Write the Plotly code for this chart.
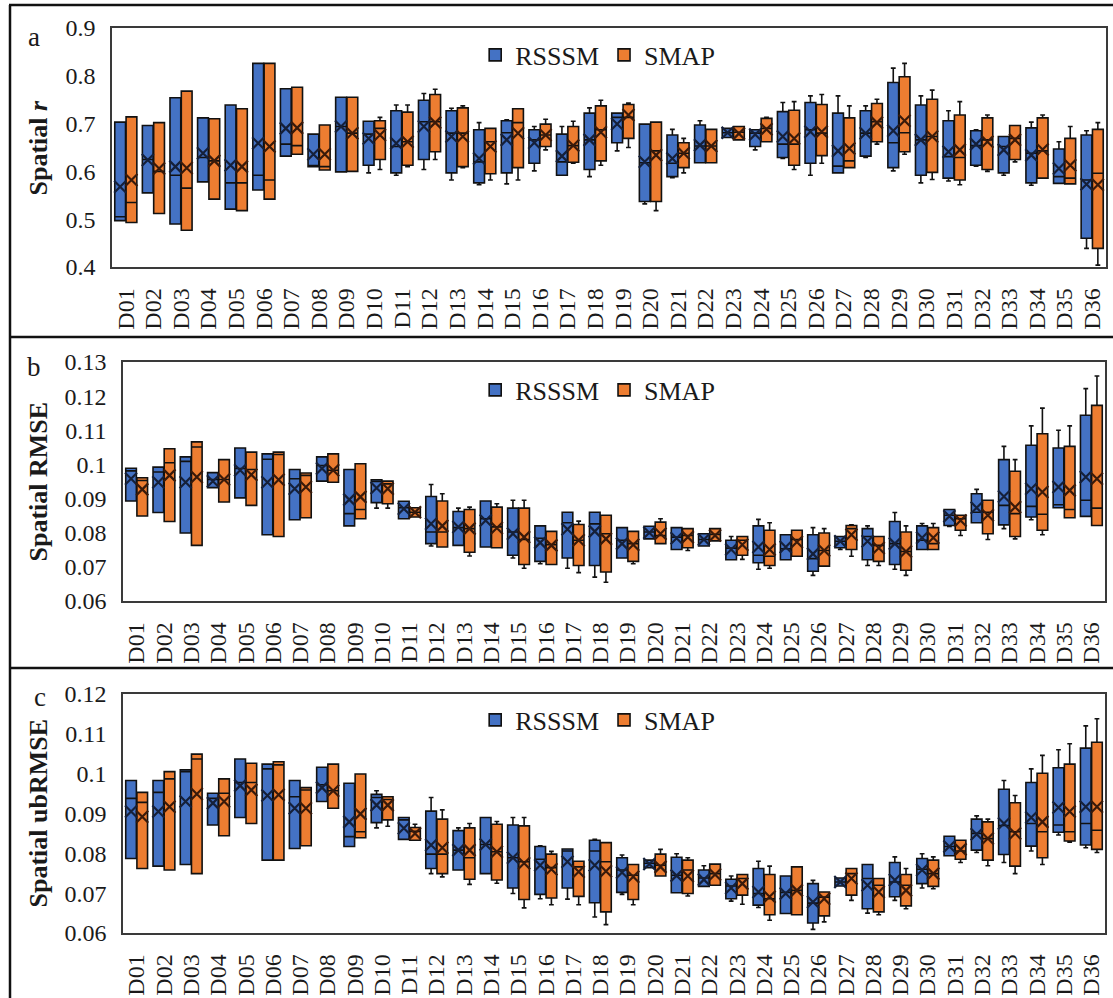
import plotly.graph_objects as go

categories = ["D01","D02","D03","D04","D05","D06","D07","D08","D09","D10","D11","D12",
              "D13","D14","D15","D16","D17","D18","D19","D20","D21","D22","D23","D24",
              "D25","D26","D27","D28","D29","D30","D31","D32","D33","D34","D35","D36"]
series_names = ["RSSSM", "SMAP"]

# ---------------- Panel a : Spatial r ----------------
a_rs_q3 = [.703,.696,.754,.712,.739,.826,.773,.678,.755,.705,.727,.749,.727,.687,.706,.687,.678,.722,
           .722,.699,.676,.697,.690,.687,.725,.744,.722,.727,.786,.739,.706,.685,.673,.691,.647,.676]
a_rs_q1 = [.497,.555,.490,.578,.521,.561,.632,.610,.599,.613,.597,.625,.597,.576,.597,.617,.592,.604,
           .660,.537,.589,.618,.671,.652,.629,.617,.597,.632,.608,.592,.586,.613,.597,.576,.575,.460]
a_rs_med = [.505,.625,.592,.629,.576,.592,.657,.612,.694,.678,.652,.704,.680,.620,.681,.666,.620,.666,
            .713,.618,.617,.653,.681,.680,.657,.687,.611,.680,.660,.666,.631,.654,.652,.638,.589,.582]
a_rs_mean = [.568,.624,.610,.638,.613,.659,.690,.636,.694,.669,.659,.694,.673,.627,.666,.660,.632,.666,
             .699,.620,.627,.655,.681,.677,.673,.683,.643,.680,.685,.666,.641,.657,.645,.634,.606,.573]
a_rs_lo = [.497,.555,.490,.578,.521,.561,.632,.610,.599,.597,.592,.604,.582,.572,.574,.601,.592,.589,
           .643,.532,.587,.618,.671,.645,.627,.592,.597,.629,.601,.576,.580,.611,.592,.571,.575,.439]
a_rs_hi = [.703,.696,.754,.712,.739,.826,.773,.678,.755,.705,.739,.763,.732,.702,.708,.694,.694,.733,
           .722,.699,.688,.706,.690,.687,.744,.758,.758,.737,.816,.758,.727,.687,.673,.703,.662,.685]

a_sm_q3 = [.714,.702,.768,.710,.731,.826,.776,.697,.755,.706,.724,.761,.733,.690,.731,.699,.694,.737,
           .740,.703,.660,.688,.694,.711,.728,.740,.712,.742,.798,.751,.718,.712,.696,.712,.669,.688]
a_sm_q1 = [.493,.512,.477,.542,.518,.542,.636,.603,.600,.625,.613,.641,.610,.595,.608,.652,.619,.622,
           .669,.537,.608,.618,.666,.662,.613,.633,.608,.662,.641,.598,.582,.604,.625,.586,.574,.439]
a_sm_med = [.535,.600,.565,.622,.576,.582,.654,.610,.680,.690,.662,.704,.680,.662,.702,.676,.654,.687,
            .713,.643,.638,.653,.682,.690,.657,.680,.622,.704,.681,.673,.629,.666,.669,.643,.586,.596]
a_sm_mean = [.582,.606,.607,.622,.610,.652,.691,.636,.680,.676,.662,.702,.673,.652,.680,.676,.654,.682,
             .718,.634,.638,.653,.679,.688,.669,.683,.648,.702,.706,.673,.645,.662,.666,.646,.613,.572]
a_sm_lo = [.493,.512,.477,.542,.518,.542,.636,.603,.600,.604,.610,.625,.608,.582,.582,.645,.617,.613,
           .650,.518,.597,.618,.666,.662,.604,.617,.608,.657,.636,.583,.572,.600,.620,.586,.574,.404]
a_sm_hi = [.714,.702,.768,.710,.731,.826,.776,.697,.755,.713,.739,.772,.737,.690,.731,.709,.705,.749,
           .743,.703,.669,.688,.694,.713,.746,.761,.737,.751,.826,.770,.746,.718,.696,.718,.694,.702]

# ---------------- Panel b : Spatial RMSE ----------------
b_rs_q3 = [.0989,.0992,.1022,.0976,.1048,.1031,.0985,.1022,.0985,.0955,.0892,.0906,.0862,.0893,.0872,.0820,.0860,.0860,
           .0815,.0819,.0815,.0797,.0778,.0820,.0794,.0794,.0789,.0812,.0833,.0820,.0868,.0914,.1014,.1056,.1048,.1144]
b_rs_q1 = [.0893,.0859,.0799,.0932,.0902,.0794,.0838,.0951,.0820,.0888,.0841,.0768,.0763,.0758,.0734,.0716,.0726,.0704,
           .0726,.0782,.0751,.0761,.0721,.0712,.0721,.0687,.0756,.0721,.0707,.0751,.0821,.0829,.0823,.0846,.0873,.0848]
b_rs_med = [.0981,.0978,.1009,.0956,.0988,.1015,.0958,.0997,.0856,.0950,.0873,.0802,.0815,.0841,.0802,.0784,.0829,.0826,
            .0778,.0802,.0787,.0780,.0755,.0734,.0753,.0724,.0775,.0789,.0768,.0778,.0851,.0860,.0880,.0877,.0882,.0895]
b_rs_mean = [.0958,.0948,.0948,.0951,.0983,.0948,.0929,.0988,.0897,.0931,.0870,.0826,.0817,.0836,.0797,.0771,.0810,.0804,
             .0768,.0800,.0784,.0780,.0751,.0758,.0758,.0738,.0775,.0775,.0768,.0785,.0848,.0873,.0906,.0929,.0934,.0963]
b_rs_lo = [.0893,.0859,.0799,.0932,.0902,.0794,.0838,.0951,.0820,.0872,.0841,.0761,.0763,.0758,.0726,.0709,.0696,.0670,
           .0726,.0782,.0751,.0761,.0721,.0693,.0721,.0675,.0751,.0704,.0693,.0751,.0818,.0829,.0812,.0838,.0873,.0848]
b_rs_hi = [.0989,.0992,.1022,.0976,.1048,.1031,.0985,.1022,.0985,.0955,.0892,.0941,.0872,.0893,.0895,.0820,.0860,.0860,
           .0815,.0819,.0815,.0797,.0789,.0839,.0794,.0815,.0789,.0820,.0859,.0827,.0868,.0927,.1053,.1113,.1100,.1222]

b_sm_q3 = [.0961,.1046,.1066,.1014,.1036,.1036,.0975,.1031,.1002,.0951,.0873,.0893,.0868,.0875,.0872,.0804,.0824,.0851,
           .0804,.0831,.0812,.0812,.0789,.0807,.0807,.0799,.0821,.0789,.0802,.0815,.0851,.0895,.0980,.1090,.1053,.1173]
b_sm_q1 = [.0849,.0833,.0763,.0890,.0880,.0789,.0844,.0948,.0841,.0885,.0846,.0758,.0743,.0756,.0707,.0707,.0704,.0685,
           .0716,.0768,.0756,.0776,.0734,.0704,.0731,.0702,.0751,.0716,.0690,.0751,.0807,.0797,.0789,.0807,.0844,.0821]
b_sm_med = [.0953,.1005,.1051,.0956,.0985,.1029,.0968,.0983,.0868,.0943,.0860,.0802,.0812,.0817,.0780,.0765,.0778,.0797,
            .0768,.0792,.0792,.0795,.0778,.0731,.0780,.0748,.0812,.0763,.0745,.0768,.0841,.0860,.0856,.0854,.0868,.0872]
b_sm_mean = [.0927,.0968,.0963,.0956,.0970,.0955,.0934,.0983,.0905,.0929,.0860,.0820,.0812,.0814,.0787,.0763,.0778,.0782,
             .0765,.0797,.0787,.0792,.0765,.0751,.0773,.0748,.0794,.0755,.0745,.0785,.0836,.0851,.0875,.0919,.0924,.0958]
b_sm_lo = [.0849,.0833,.0763,.0890,.0880,.0789,.0844,.0948,.0841,.0872,.0846,.0758,.0732,.0756,.0696,.0707,.0683,.0655,
           .0709,.0768,.0748,.0776,.0722,.0696,.0731,.0702,.0731,.0704,.0675,.0751,.0792,.0780,.0782,.0794,.0844,.0821]
b_sm_hi = [.0961,.1046,.1066,.1014,.1036,.1036,.0975,.1031,.1002,.0951,.0873,.0914,.0875,.0885,.0895,.0804,.0834,.0851,
           .0804,.0841,.0812,.0812,.0789,.0829,.0807,.0812,.0823,.0789,.0820,.0827,.0851,.0895,.1014,.1165,.1113,.1259]

# ---------------- Panel c : Spatial ubRMSE ----------------
c_rs_q3 = [.0983,.0983,.1010,.0951,.1037,.1024,.0983,.1016,.0976,.0948,.0890,.0906,.0857,.0890,.0871,.0817,.0811,.0833,
           .0789,.0783,.0790,.0758,.0735,.0762,.0743,.0724,.0738,.0772,.0777,.0787,.0843,.0886,.0961,.0978,.1015,.1064]
c_rs_q1 = [.0787,.0768,.0772,.0871,.0890,.0783,.0812,.0930,.0817,.0877,.0835,.0762,.0758,.0749,.0713,.0697,.0713,.0676,
           .0702,.0764,.0701,.0717,.0686,.0670,.0649,.0625,.0718,.0661,.0691,.0724,.0794,.0808,.0797,.0818,.0853,.0821]
c_rs_med = [.0938,.0953,.1005,.0938,.0978,.1012,.0942,.0972,.0842,.0940,.0884,.0798,.0808,.0822,.0789,.0785,.0806,.0806,
            .0758,.0775,.0745,.0738,.0718,.0699,.0702,.0675,.0728,.0737,.0728,.0760,.0817,.0850,.0870,.0875,.0871,.0875]
c_rs_mean = [.0905,.0905,.0930,.0926,.0970,.0945,.0913,.0965,.0879,.0921,.0863,.0821,.0808,.0822,.0789,.0770,.0779,.0770,
             .0752,.0773,.0744,.0734,.0713,.0703,.0699,.0678,.0728,.0720,.0733,.0758,.0817,.0848,.0875,.0890,.0915,.0917]
c_rs_lo = [.0787,.0768,.0772,.0871,.0890,.0783,.0812,.0930,.0817,.0864,.0835,.0749,.0758,.0749,.0699,.0686,.0685,.0640,
           .0697,.0764,.0701,.0717,.0680,.0664,.0649,.0609,.0718,.0650,.0682,.0713,.0794,.0802,.0777,.0806,.0846,.0814]
c_rs_hi = [.0983,.0983,.1010,.0951,.1037,.1024,.0983,.1016,.0976,.0957,.0890,.0940,.0864,.0890,.0890,.0819,.0811,.0835,
           .0796,.0783,.0799,.0769,.0743,.0780,.0743,.0732,.0738,.0772,.0791,.0799,.0843,.0894,.0983,.1012,.1060,.1120]

c_sm_q3 = [.0953,.1005,.1049,.0987,.1026,.1030,.0965,.1024,.0999,.0942,.0865,.0886,.0864,.0873,.0869,.0798,.0780,.0827,
           .0772,.0798,.0783,.0773,.0747,.0747,.0766,.0703,.0762,.0737,.0747,.0783,.0833,.0879,.0927,.1001,.1024,.1079]
c_sm_q1 = [.0762,.0758,.0749,.0844,.0875,.0783,.0819,.0913,.0839,.0884,.0833,.0749,.0735,.0733,.0684,.0688,.0692,.0653,
           .0684,.0743,.0699,.0720,.0695,.0646,.0646,.0643,.0695,.0653,.0668,.0717,.0785,.0783,.0768,.0789,.0831,.0810]
c_sm_med = [.0928,.0987,.1037,.0951,.0978,.1022,.0959,.0957,.0854,.0935,.0855,.0798,.0789,.0804,.0779,.0764,.0766,.0779,
            .0745,.0770,.0758,.0749,.0737,.0686,.0707,.0690,.0749,.0720,.0720,.0749,.0806,.0837,.0854,.0854,.0854,.0858]
c_sm_mean = [.0892,.0917,.0949,.0930,.0959,.0947,.0913,.0957,.0899,.0921,.0850,.0814,.0808,.0804,.0775,.0760,.0754,.0755,
             .0741,.0766,.0743,.0747,.0724,.0691,.0707,.0686,.0737,.0703,.0707,.0749,.0810,.0837,.0850,.0879,.0905,.0917]
c_sm_lo = [.0762,.0758,.0749,.0844,.0875,.0783,.0819,.0913,.0839,.0868,.0833,.0741,.0722,.0725,.0663,.0671,.0671,.0621,
           .0671,.0743,.0693,.0720,.0672,.0632,.0646,.0628,.0682,.0646,.0661,.0711,.0777,.0769,.0749,.0772,.0828,.0802]
c_sm_hi = [.0953,.1005,.1049,.0987,.1026,.1030,.0965,.1024,.0999,.0942,.0873,.0909,.0875,.0880,.0890,.0805,.0780,.0827,
           .0772,.0810,.0789,.0773,.0747,.0768,.0766,.0703,.0762,.0737,.0762,.0791,.0833,.0886,.0945,.1046,.1075,.1138]

# Axis ticks
a_ticks = [0.4, 0.5, 0.6, 0.7, 0.8, 0.9]
a_ticktext = ["0.4", "0.5", "0.6", "0.7", "0.8", "0.9"]
b_ticks = [0.06, 0.07, 0.08, 0.09, 0.10, 0.11, 0.12, 0.13]
b_ticktext = ["0.06", "0.07", "0.08", "0.09", "0.1", "0.11", "0.12", "0.13"]
c_ticks = [0.06, 0.07, 0.08, 0.09, 0.10, 0.11, 0.12]
c_ticktext = ["0.06", "0.07", "0.08", "0.09", "0.1", "0.11", "0.12"]

# ---------------- styling ----------------
W, H = 1113, 998
FONT = "Liberation Serif"
COLORS = {"RSSSM": "#4472C4", "SMAP": "#ED7D31"}
MEAN_COLORS = {"RSSSM": "#15203a", "SMAP": "#3a1a0a"}
OFFSET = 0.205
BOXW = 0.39

def px(x):
    return x / W

def py(y):
    return 1 - y / H

panels = [
    dict(ax="", ylab="Spatial <i>r</i>", letter="a", rng=[0.4, 0.9], ticks=a_ticks, ticktext=a_ticktext,
         xdom=[px(112), px(1106)], ydom=[py(267), py(28)], legy=py(55), lety=py(37), letx=px(34),
         data={"RSSSM": (a_rs_q1, a_rs_med, a_rs_q3, a_rs_lo, a_rs_hi, a_rs_mean),
               "SMAP": (a_sm_q1, a_sm_med, a_sm_q3, a_sm_lo, a_sm_hi, a_sm_mean)}),
    dict(ax="2", ylab="Spatial RMSE", letter="b", rng=[0.06, 0.13], ticks=b_ticks, ticktext=b_ticktext,
         xdom=[px(123), px(1105)], ydom=[py(601), py(362)], legy=py(390), lety=py(367), letx=px(34),
         data={"RSSSM": (b_rs_q1, b_rs_med, b_rs_q3, b_rs_lo, b_rs_hi, b_rs_mean),
               "SMAP": (b_sm_q1, b_sm_med, b_sm_q3, b_sm_lo, b_sm_hi, b_sm_mean)}),
    dict(ax="3", ylab="Spatial ubRMSE", letter="c", rng=[0.06, 0.12], ticks=c_ticks, ticktext=c_ticktext,
         xdom=[px(123), px(1105)], ydom=[py(933), py(694)], legy=py(720), lety=py(697), letx=px(40),
         data={"RSSSM": (c_rs_q1, c_rs_med, c_rs_q3, c_rs_lo, c_rs_hi, c_rs_mean),
               "SMAP": (c_sm_q1, c_sm_med, c_sm_q3, c_sm_lo, c_sm_hi, c_sm_mean)}),
]

fig = go.Figure()
layout_updates = {}
annotations = []
idx = list(range(len(categories)))

for p in panels:
    ax = p["ax"]
    xref = "x" + ax
    yref = "y" + ax
    legname = "legend" + ax
    for k, name in enumerate(series_names):
        q1, med, q3, lo, hi, mean = p["data"][name]
        off = -OFFSET if k == 0 else OFFSET
        xs = [i + off for i in idx]
        fig.add_trace(go.Box(
            x=xs, q1=q1, median=med, q3=q3, lowerfence=lo, upperfence=hi,
            name=name, width=BOXW, whiskerwidth=0.45,
            fillcolor=COLORS[name], line=dict(color="#111111", width=1.6),
            boxpoints=False, xaxis=xref, yaxis=yref, legend=legname,
            showlegend=True, hoverinfo="skip",
        ))
        fig.add_trace(go.Scatter(
            x=xs, y=mean, mode="markers",
            marker=dict(symbol="x-thin", size=12, line=dict(width=2.2, color=MEAN_COLORS[name])),
            showlegend=False, xaxis=xref, yaxis=yref, hoverinfo="skip",
        ))

    layout_updates["xaxis" + ax] = dict(
        domain=p["xdom"], anchor=yref, range=[-0.5, 35.5],
        tickmode="array", tickvals=idx, ticktext=categories, tickangle=-90,
        showline=True, mirror=True, linecolor="#3a3a3a", linewidth=1.5,
        showgrid=False, zeroline=False, ticks="", automargin=False,
        tickfont=dict(family=FONT, size=24, color="#1a1a1a"), ticklabelstandoff=10,
    )
    layout_updates["yaxis" + ax] = dict(
        domain=p["ydom"], anchor=xref, range=p["rng"],
        tickmode="array", tickvals=p["ticks"], ticktext=p["ticktext"],
        showline=True, mirror=True, linecolor="#3a3a3a", linewidth=1.5,
        showgrid=False, zeroline=False, ticks="", automargin=False,
        tickfont=dict(family=FONT, size=24, color="#1a1a1a"), ticklabelstandoff=10,
    )
    layout_updates[legname] = dict(
        x=0.537, y=p["legy"], xanchor="center", yanchor="middle", orientation="h",
        font=dict(family=FONT, size=26, color="#1a1a1a"), bgcolor="rgba(0,0,0,0)",
        itemwidth=30, tracegroupgap=0,
    )
    annotations.append(dict(
        x=px(38), y=(p["ydom"][0] + p["ydom"][1]) / 2, xref="paper", yref="paper",
        text="<b>" + p["ylab"] + "</b>", textangle=-90, showarrow=False,
        font=dict(family=FONT, size=26, color="#1a1a1a"), xanchor="center", yanchor="middle",
    ))
    annotations.append(dict(
        x=p["letx"], y=p["lety"], xref="paper", yref="paper", text=p["letter"],
        showarrow=False, font=dict(family=FONT, size=27, color="#1a1a1a"),
        xanchor="center", yanchor="middle",
    ))

shapes = []
frame_y = [5, 337, 668]
for fy in frame_y:
    shapes.append(dict(type="line", xref="paper", yref="paper", x0=px(9), x1=1.0,
                       y0=py(fy), y1=py(fy), line=dict(color="#111111", width=2.5)))
shapes.append(dict(type="line", xref="paper", yref="paper", x0=px(10), x1=px(10),
                   y0=py(5), y1=0.0, line=dict(color="#111111", width=2.5)))

fig.update_layout(
    width=W, height=H, margin=dict(l=0, r=0, t=0, b=0, pad=0, autoexpand=False),
    paper_bgcolor="white", plot_bgcolor="white",
    boxmode="overlay", annotations=annotations, shapes=shapes,
    font=dict(family=FONT),
    **layout_updates,
)

fig.write_html(
    "out.html",
    config={"displayModeBar": False},
    post_script="document.body.style.margin='0px';document.body.style.overflow='hidden';",
)
